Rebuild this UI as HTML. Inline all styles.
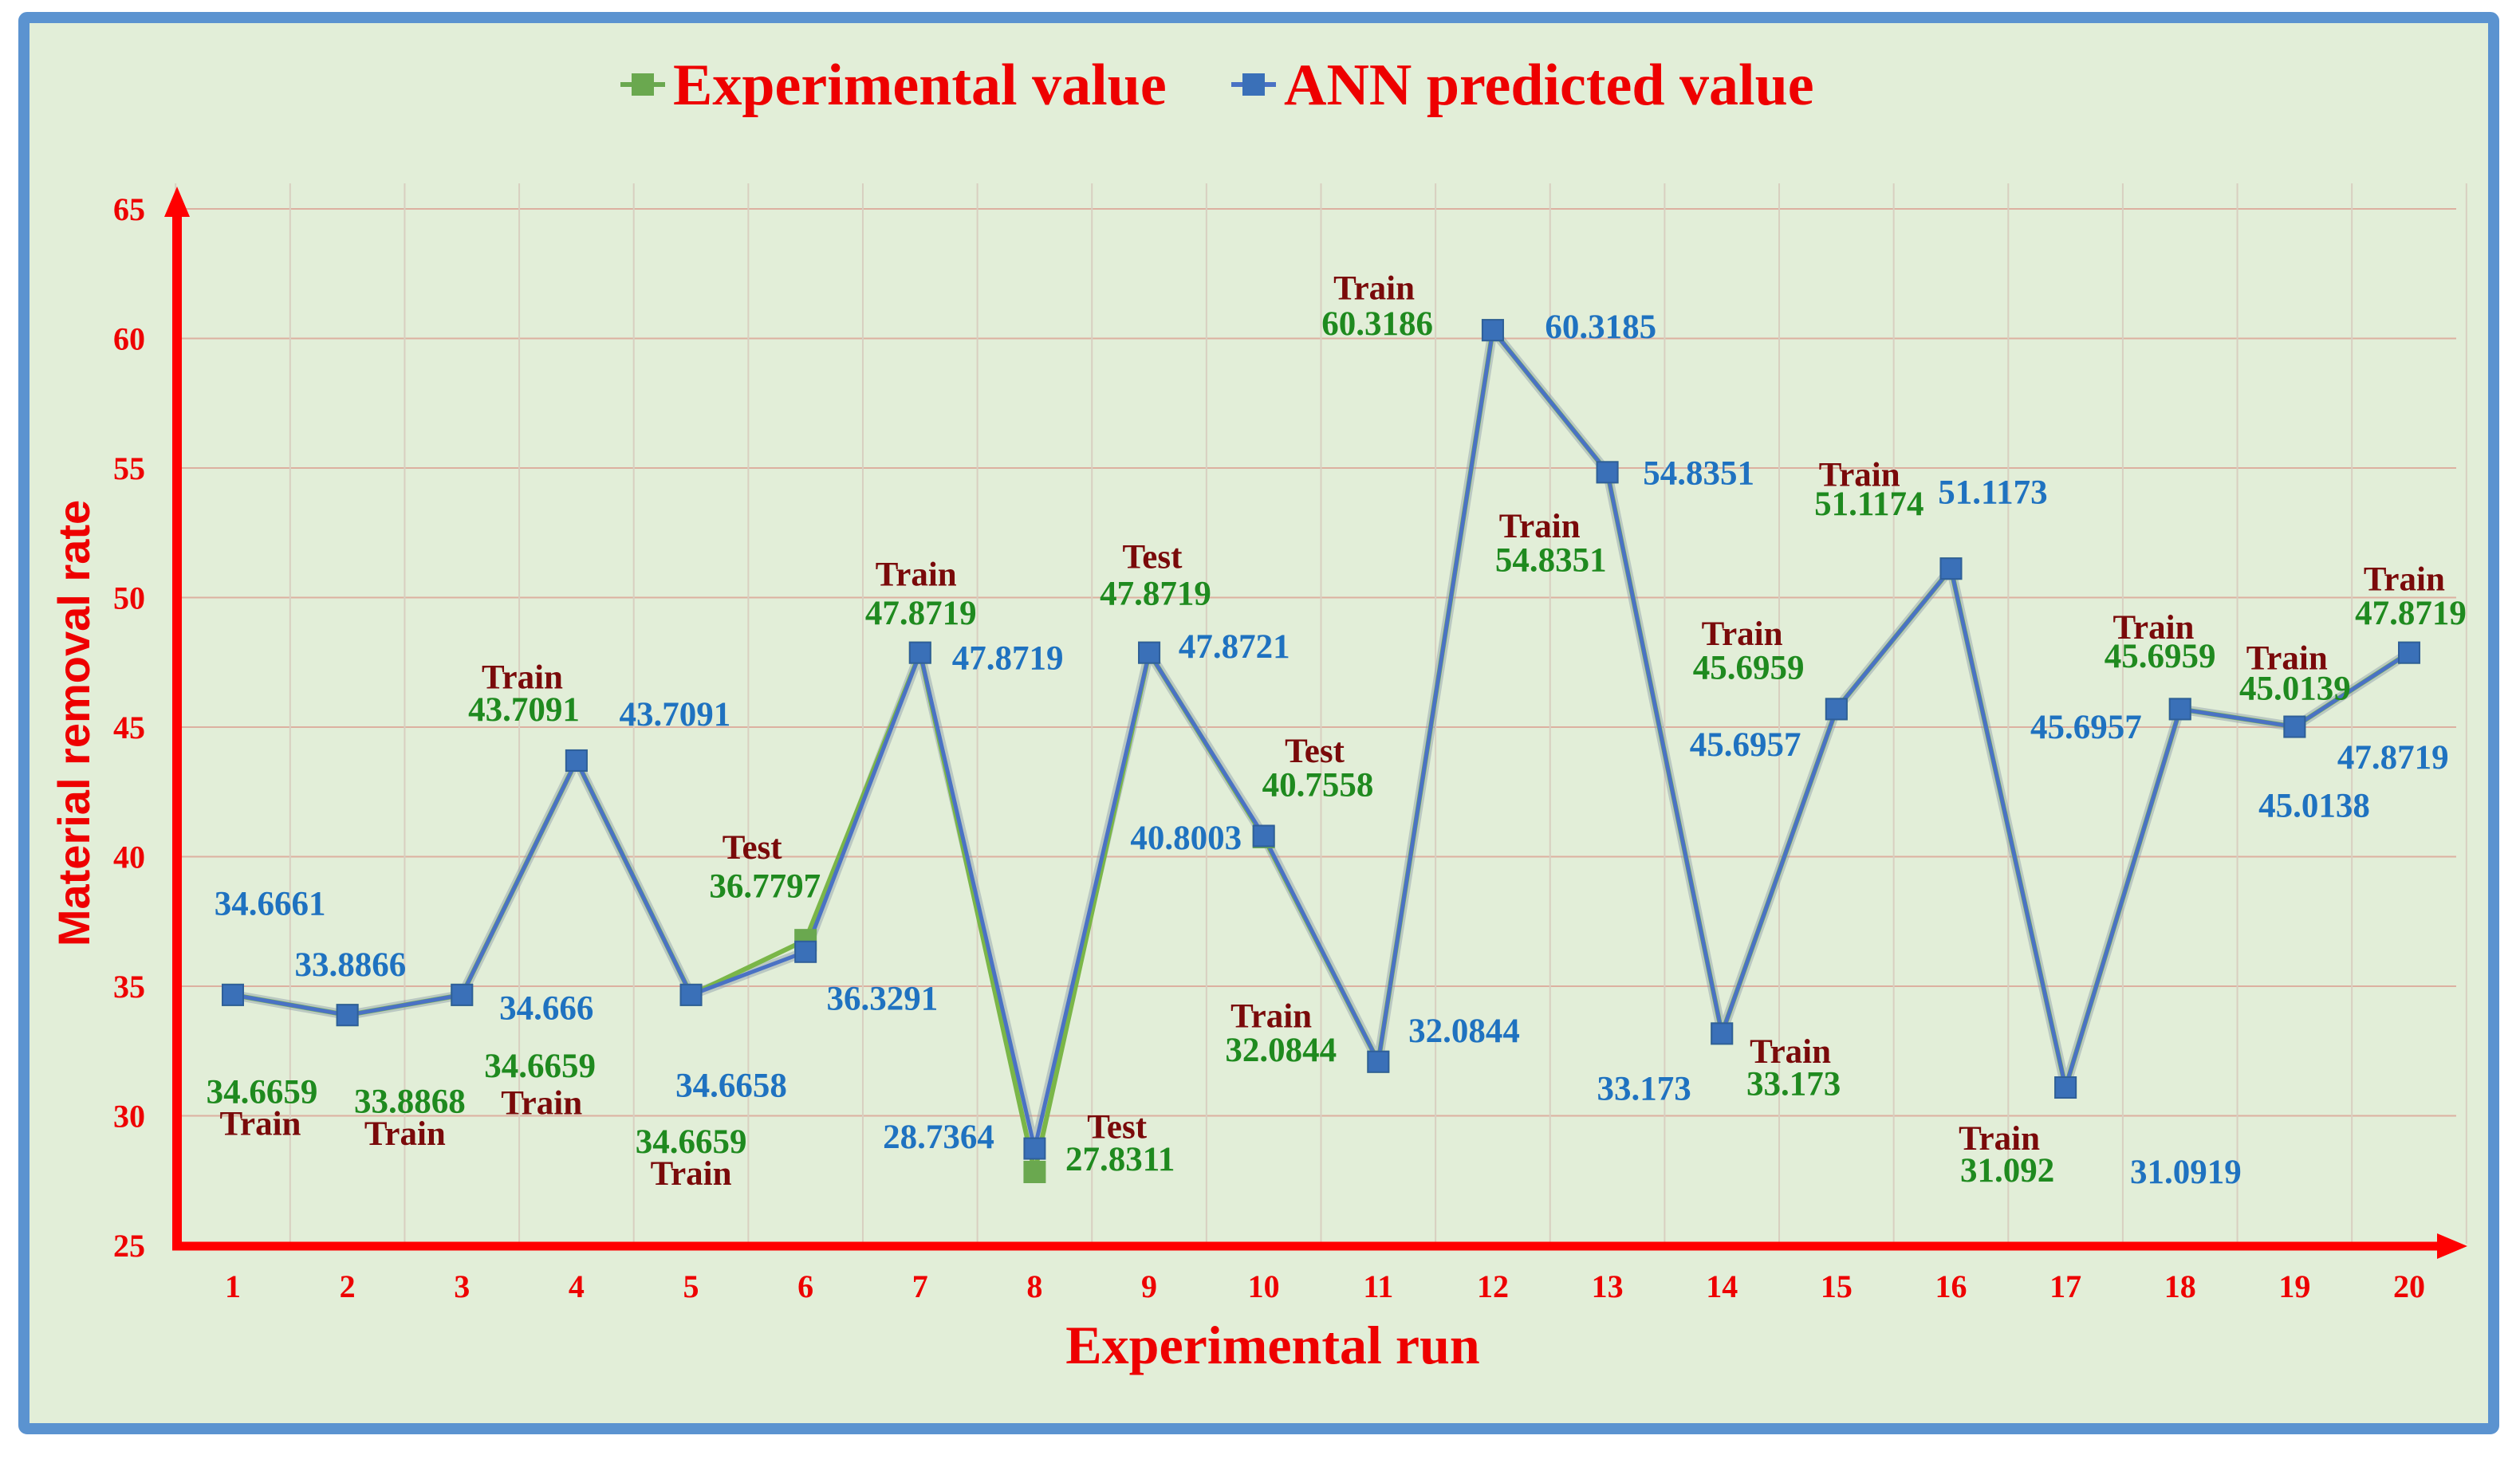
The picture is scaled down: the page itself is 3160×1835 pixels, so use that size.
<!DOCTYPE html>
<html><head><meta charset="utf-8"><style>
html,body{margin:0;padding:0;background:#fff;}
svg{display:block;}
text{font-family:"Liberation Serif",serif;font-weight:bold;}
</style></head><body>
<svg id="chart" width="3160" height="1835" viewBox="0 0 3160 1835" xmlns="http://www.w3.org/2000/svg">
<rect x="30" y="22" width="3097" height="1770" fill="#e2eed8" stroke="#5b93d0" stroke-width="14" rx="4"/>
<g id="grid"></g>
<g id="lines"></g>
<g id="labels"></g>
<g id="axes"></g>
<g>
 <g>
  <line x1="778" y1="106" x2="834" y2="106" stroke="#6aa84f" stroke-width="6"/>
  <rect x="792" y="92" width="28" height="28" fill="#6aa84f"/>
  <text x="844" y="131" font-size="74" fill="#ee0000">Experimental value</text>
 </g>
 <g>
  <line x1="1544" y1="106" x2="1600" y2="106" stroke="#4a72c4" stroke-width="6"/>
  <rect x="1558" y="92" width="28" height="28" fill="#3a70b8"/>
  <text x="1610" y="131" font-size="74" fill="#ee0000">ANN predicted value</text>
 </g>
</g>
<text x="1596" y="1710" font-size="68" fill="#ee0000" text-anchor="middle">Experimental run</text>
<text transform="translate(112,907) rotate(-90)" font-size="56" fill="#ee0000" text-anchor="middle" style="font-family:'Liberation Sans',sans-serif">Material removal rate</text>
</svg>
<script>
const runs = [1,2,3,4,5,6,7,8,9,10,11,12,13,14,15,16,17,18,19,20];
const experimental = [34.6659,33.8868,34.6659,43.7091,34.6659,36.7797,47.8719,27.8311,47.8719,40.7558,32.0844,60.3186,54.8351,33.173,45.6959,51.1174,31.092,45.6959,45.0139,47.8719];
const annPredicted = [34.6661,33.8866,34.666,43.7091,34.6658,36.3291,47.8719,28.7364,47.8721,40.8003,32.0844,60.3185,54.8351,33.173,45.6957,51.1173,31.0919,45.6957,45.0138,47.8719];
const splitTags = ["Train","Train","Train","Train","Train","Test","Train","Test","Test","Test","Train","Train","Train","Train","Train","Train","Train","Train","Train","Train"];
const yTicks = [25,30,35,40,45,50,55,60,65];

const NS="http://www.w3.org/2000/svg";
const X0=292, DX=(3021-292)/19, Y25=1562, PPU=(1562-262)/40;
const xs=i=>X0+i*DX;
const ys=v=>Y25-(v-25)*PPU;
function mk(tag,attrs,parent,txt){const e=document.createElementNS(NS,tag);for(const k in attrs)e.setAttribute(k,attrs[k]);if(txt!==undefined)e.textContent=txt;parent.appendChild(e);return e;}
const grid=document.getElementById('grid'),lines=document.getElementById('lines'),labels=document.getElementById('labels'),axes=document.getElementById('axes');

yTicks.forEach(t=>{
  const l=mk('line',{x1:228,x2:3080,y1:ys(t),y2:ys(t),stroke:'#dcb0a0','stroke-width':2},grid);
  
  
  const tx=mk('text',{x:162,y:ys(t)+14,'font-size':40,fill:'#ee0000','text-anchor':'middle'},axes,String(t));
  
  
});
for(let i=0;i<=runs.length;i++){
  const x=X0-DX/2+i*DX;
  const l=mk('line',{x1:x,x2:x,y1:230,y2:1560,stroke:'#d8cfc0','stroke-width':2},grid);
  
  
}
runs.forEach((r,i)=>{
  const t=mk('text',{x:xs(i),y:1627,'font-size':40,fill:'#ee0000','text-anchor':'middle'},axes,String(r));
  
  
});
const ya=mk('line',{x1:222,y1:1567,x2:222,y2:270,stroke:'#ff0000','stroke-width':12},axes);

const yh=mk('polygon',{points:'206,272 238,272 222,234',fill:'#ff0000'},axes);

const xa=mk('line',{x1:216,y1:1563,x2:3060,y2:1563,stroke:'#ff0000','stroke-width':11},axes);

const xh=mk('polygon',{points:'3056,1547 3056,1579 3094,1563',fill:'#ff0000'},axes);


function pts(arr){return arr.map((v,i)=>xs(i)+','+ys(v)).join(' ');}
const sh=mk('polyline',{points:pts(annPredicted),fill:'none',stroke:'#8a9aa8','stroke-width':12,'stroke-opacity':0.45,'stroke-linejoin':'round'},lines);

const ge=mk('polyline',{points:pts(experimental),fill:'none',stroke:'#7ab648','stroke-width':6,'stroke-linejoin':'round'},lines);

const be=mk('polyline',{points:pts(annPredicted),fill:'none',stroke:'#4a72c4','stroke-width':5,'stroke-linejoin':'round'},lines);

experimental.forEach((v,i)=>{
  const m=mk('rect',{x:xs(i)-14,y:ys(v)-14,width:28,height:28,fill:'#6aa84f'},lines);
  
  
});
annPredicted.forEach((v,i)=>{
  const m=mk('rect',{x:xs(i)-13,y:ys(v)-13,width:26,height:26,fill:'#3a70b8',stroke:'#2f5f9a','stroke-width':2},lines);
  
  
});

const tagPos=[[162,699],[252,705],[337,686],[325,421],[430,730],[468,527],[570,357],[695,701],[717,346],[818,467],[791,632],[855,179],[958,327],[1114,654],[1084,394],[1157,295],[1244,708],[1340,390],[1423,409],[1496,360]];
const expPos=[[163,679],[255,685],[336,663],[326,441],[430,710],[476,551],[573,381],[697,721],[719,369],[820,488],[797,653],[857,201],[965,348],[1116,674],[1088,415],[1163,313],[1249,728],[1344,408],[1428,428],[1500,381]];
const annPos=[[168,562],[218,600],[340,627],[420,444],[455,675],[549,621],[627,409],[584,707],[768,402],[738,521],[911,641],[996,203],[1057,294],[1023,677],[1086,463],[1240,306],[1360,729],[1298,452],[1440,501],[1489,471]];
const S=3160/1568;
function lab(txt,p,fill,name){
  const t=mk('text',{x:p[0]*S,y:p[1]*S+15,'font-size':43,fill:fill,'text-anchor':'middle'},labels,txt);
  
  
}
runs.forEach((r,i)=>{
  lab(splitTags[i],tagPos[i],'#7a0a0a','split-label-'+r);
  lab(String(experimental[i]),expPos[i],'#1f8a1f','experimental-value-label-'+r);
  lab(String(annPredicted[i]),annPos[i],'#1f72c0','ann-value-label-'+r);
});
</script>
</body></html>
